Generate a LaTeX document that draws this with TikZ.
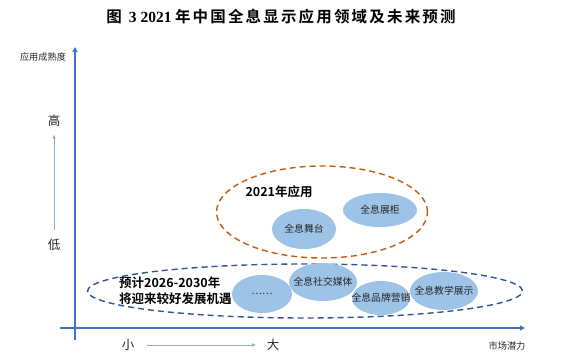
\documentclass[tikz,border=0pt]{standalone}
\usepackage{fontspec}
\setmainfont{Liberation Sans}
\newfontfamily\cjk[BoldFont={Noto Sans CJK SC Bold}]{Noto Sans CJK SC}
\newfontfamily\titleserif{Liberation Serif}
\usetikzlibrary{arrows.meta,shapes.geometric}
\definecolor{axisblue}{HTML}{4472C4}
\definecolor{hintblue}{HTML}{8FAADC}
\definecolor{bubblefill}{HTML}{9DC3E6}
\definecolor{zoneorange}{HTML}{C55A11}
\definecolor{zoneblue}{HTML}{2F5597}
\definecolor{textgray}{HTML}{262626}
\begin{document}
\begin{tikzpicture}[x=1pt,y=-1pt,
  axis/.style={draw=axisblue,line width=1.6pt,-{Triangle[width=5pt,length=5pt]}},
  hint/.style={draw=hintblue,line width=0.7pt,-{Triangle[width=3.5pt,length=3.5pt]}},
  bubble/.style={ellipse,fill=bubblefill,inner sep=0pt},
  bubbletext/.style={font=\cjk\fontsize{9.8}{11}\selectfont,text=textgray,inner sep=0pt},
  zone/.style={ellipse,line width=1.4pt,dash pattern=on 6pt off 4pt,inner sep=0pt},
  small/.style={font=\cjk\fontsize{9.2}{11}\selectfont,text=textgray,inner sep=0pt},
  mid/.style={font=\cjk\fontsize{12.5}{14}\selectfont,text=textgray,inner sep=2pt},
  bold/.style={font=\cjk\bfseries\fontsize{12.5}{16}\selectfont,text=black,inner sep=0pt}]
\useasboundingbox (0,0) rectangle (571,364);
% title
\node[inner sep=0pt,font=\fontsize{15.5}{17}\selectfont] (title) at (281,17)
  {\cjk\bfseries 图\ \ {\titleserif\bfseries 3 2021}\ {\addfontfeature{LetterSpace=14}年中国全息显示应用领域及未来预测}};
% axes
\coordinate (ybot) at (75,340);
\coordinate (ytop) at (75,47);
\coordinate (xl) at (60,328);
\coordinate (xr) at (525,328);
\draw[axis] (ybot) -- (ytop);
\draw[axis] (xl) -- (xr);
\node[small] (ylab) at (43,57) {应用成熟度};
\node[small] (xlab) at (507,346) {市场潜力};
% hints
\node[mid] (high) at (54,121) {高};
\node[mid] (low) at (54,245) {低};
\draw[hint,shorten <=7pt,shorten >=6pt] (low.north) -- (high.south);
\node[mid] (smallx) at (128,345) {小};
\node[mid] (bigx) at (273,345) {大};
\draw[hint,shorten <=11pt,shorten >=9pt] (smallx.east) -- (bigx.west);
% zones
\node[zone,draw=zoneorange,minimum width=211pt,minimum height=92pt] (z21) at (322,212) {};
\node[zone,draw=zoneblue,minimum width=435pt,minimum height=54pt] (zfut) at (305,291) {};
\node[bold] (t21) at (279,192) {2021年应用};
\node[bold,anchor=west,align=left] (tfut) at (119,291) {预计2026-2030年\\将迎来较好发展机遇};
% bubbles
\node[bubble,minimum width=64pt,minimum height=40pt,label={[bubbletext]center:全息舞台}] (stage) at (304,229) {};
\node[bubble,minimum width=74pt,minimum height=34pt,label={[bubbletext]center:全息展柜}] (cabinet) at (380,210) {};
\node[bubble,minimum width=60pt,minimum height=38pt,label={[bubbletext]center:……}] (more) at (262,294) {};
\node[bubble,minimum width=68pt,minimum height=38pt,label={[bubbletext]center:全息社交媒体}] (social) at (323,282) {};
\node[bubble,minimum width=58pt,minimum height=34pt,label={[bubbletext]center:全息品牌营销}] (brand) at (381,298) {};
\node[bubble,minimum width=68pt,minimum height=38pt,label={[bubbletext]center:全息教学展示}] (teach) at (444,291) {};
\end{tikzpicture}
\end{document}
